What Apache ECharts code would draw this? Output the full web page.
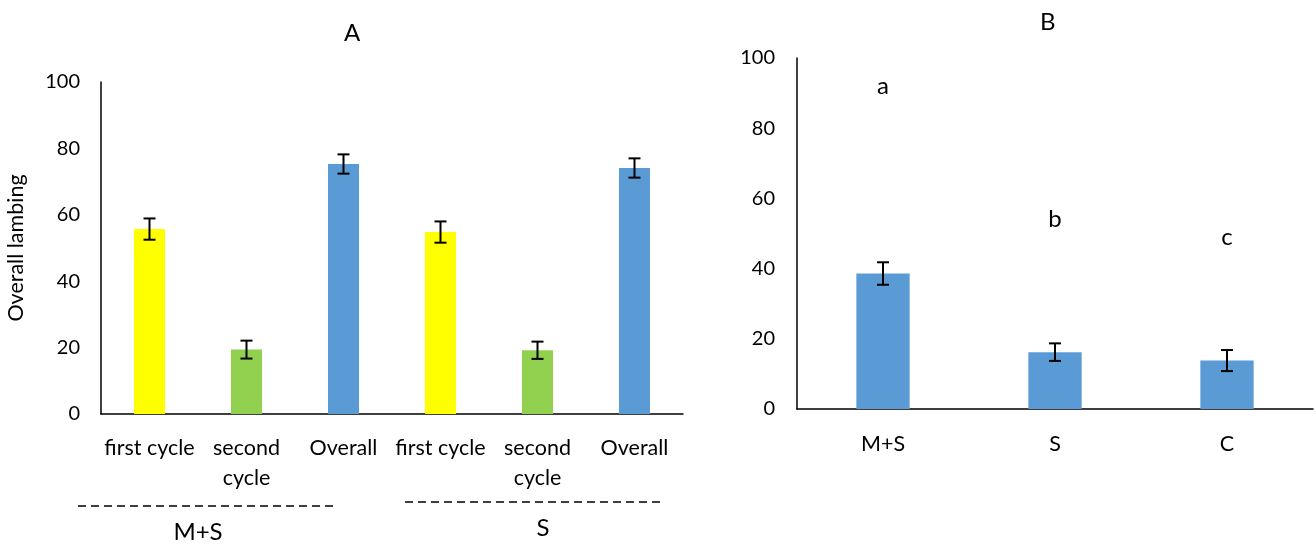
<!DOCTYPE html>
<html><head><meta charset="utf-8">
<script src="https://cdn.jsdelivr.net/npm/echarts@6/dist/echarts.min.js"></script>
<style>html,body{margin:0;padding:0;background:#fff}#c{width:1315px;height:546px}</style>
</head><body><div id="c"></div>
<script>
// ---- data ----
const categoriesA = ['first cycle', 'second\ncycle', 'Overall', 'first cycle', 'second\ncycle', 'Overall'];
const kindsA = ['first', 'second', 'overall', 'first', 'second', 'overall'];
const valuesA = [55.7, 19.4, 75.3, 54.8, 19.2, 74.1];
const errorsA = [3.2, 2.7, 2.9, 3.2, 2.6, 2.9];
const groupsA = ['M+S', 'S'];

const categoriesB = ['M+S', 'S', 'C'];
const valuesB = [38.6, 16.2, 13.8];
const errorsB = [3.2, 2.5, 3.0];
const lettersB = ['a', 'b', 'c'];
const letterPosB = [92, 54, 49];

const yTicks = [0, 20, 40, 60, 80, 100];

// ---- styles ----
const FONT = 'Lato';
const FS = 21.5;
const FST = 20;
const FSB = 24;
const kindColor = { first: '#FFFF00', second: '#92D050', overall: '#5B9BD5' };

function errBar(params, api) {
  const x = api.value(0), v = api.value(1), e = api.value(2);
  const t = api.coord([x, v + e]);
  const b = api.coord([x, v - e]);
  const hw = 6;
  const st = { stroke: '#000', lineWidth: 2 };
  return { type: 'group', children: [
    { type: 'line', shape: { x1: t[0], y1: t[1], x2: b[0], y2: b[1] }, style: st },
    { type: 'line', shape: { x1: t[0] - hw, y1: t[1], x2: t[0] + hw, y2: t[1] }, style: st },
    { type: 'line', shape: { x1: b[0] - hw, y1: b[1], x2: b[0] + hw, y2: b[1] }, style: st }
  ]};
}

const axisLine = { show: true, lineStyle: { color: '#000', width: 1.5 } };
const labelStyle = { fontFamily: FONT, fontSize: FS, color: '#000' };
const tickStyle = { fontFamily: FONT, fontSize: FST, color: '#000' };

const chart = echarts.init(document.getElementById('c'), null, { renderer: 'canvas' });
chart.setOption({
  animation: false,
  backgroundColor: '#fff',
  textStyle: { fontFamily: FONT },
  title: [
    { text: 'A', left: 339, top: 16, textStyle: { fontFamily: FONT, fontSize: FSB, fontWeight: 'normal', color: '#000' } },
    { text: 'B', left: 1035, top: 5, textStyle: { fontFamily: FONT, fontSize: FSB, fontWeight: 'normal', color: '#000' } }
  ],
  grid: [
    { left: 101, right: 632, top: 82, bottom: 132 },
    { left: 797, right: 2, top: 58, bottom: 137 }
  ],
  xAxis: [
    { type: 'category', gridIndex: 0, data: categoriesA, axisLine, axisTick: { show: false },
      axisLabel: Object.assign({ margin: 19, lineHeight: 30, interval: 0 }, labelStyle) },
    { type: 'category', gridIndex: 1, data: categoriesB, axisLine, axisTick: { show: false },
      axisLabel: Object.assign({ margin: 24, interval: 0 }, labelStyle) }
  ],
  yAxis: [
    { type: 'value', gridIndex: 0, min: yTicks[0], max: yTicks[yTicks.length - 1], interval: 20,
      axisLine, axisTick: { show: false }, splitLine: { show: false },
      axisLabel: Object.assign({ margin: 21 }, tickStyle),
      name: 'Overall lambing', nameLocation: 'middle', nameGap: 74,
      nameTextStyle: { fontFamily: FONT, fontSize: FS, color: '#000' } },
    { type: 'value', gridIndex: 1, min: yTicks[0], max: yTicks[yTicks.length - 1], interval: 20,
      axisLine, axisTick: { show: false }, splitLine: { show: false },
      axisLabel: Object.assign({ margin: 22 }, tickStyle) }
  ],
  series: [
    { type: 'bar', xAxisIndex: 0, yAxisIndex: 0, barWidth: '32%',
      data: valuesA.map((v, i) => ({ value: v, itemStyle: { color: kindColor[kindsA[i]] } })) },
    { type: 'custom', xAxisIndex: 0, yAxisIndex: 0, renderItem: errBar, z: 5,
      data: valuesA.map((v, i) => [i, v, errorsA[i]]), encode: { x: 0, y: 1 } },
    { type: 'bar', xAxisIndex: 1, yAxisIndex: 1, barWidth: '31%',
      itemStyle: { color: kindColor.overall },
      data: valuesB },
    { type: 'custom', xAxisIndex: 1, yAxisIndex: 1, renderItem: errBar, z: 5,
      data: valuesB.map((v, i) => [i, v, errorsB[i]]), encode: { x: 0, y: 1 } },
    { type: 'scatter', xAxisIndex: 1, yAxisIndex: 1, symbolSize: 1,
      itemStyle: { color: 'rgba(0,0,0,0)', opacity: 1 },
      data: letterPosB.map((y, i) => [i, y]),
      label: { show: true, position: 'inside', fontFamily: FONT, fontSize: FSB, color: '#000',
        formatter: p => lettersB[p.dataIndex] } }
  ],
  graphic: [
    { type: 'line', shape: { x1: 78, y1: 506, x2: 338, y2: 506 }, style: { stroke: '#000', lineWidth: 1.5, lineDash: [8, 5] } },
    { type: 'line', shape: { x1: 405, y1: 502, x2: 665, y2: 502 }, style: { stroke: '#000', lineWidth: 1.5, lineDash: [8, 5] } },
    { type: 'text', x: 198, y: 532, style: { text: groupsA[0], x: 0, y: 0, textAlign: 'center', textVerticalAlign: 'middle', font: FSB + 'px ' + FONT, fill: '#000' } },
    { type: 'text', x: 543, y: 528, style: { text: groupsA[1], x: 0, y: 0, textAlign: 'center', textVerticalAlign: 'middle', font: FSB + 'px ' + FONT, fill: '#000' } }
  ]
});
</script></body></html>
